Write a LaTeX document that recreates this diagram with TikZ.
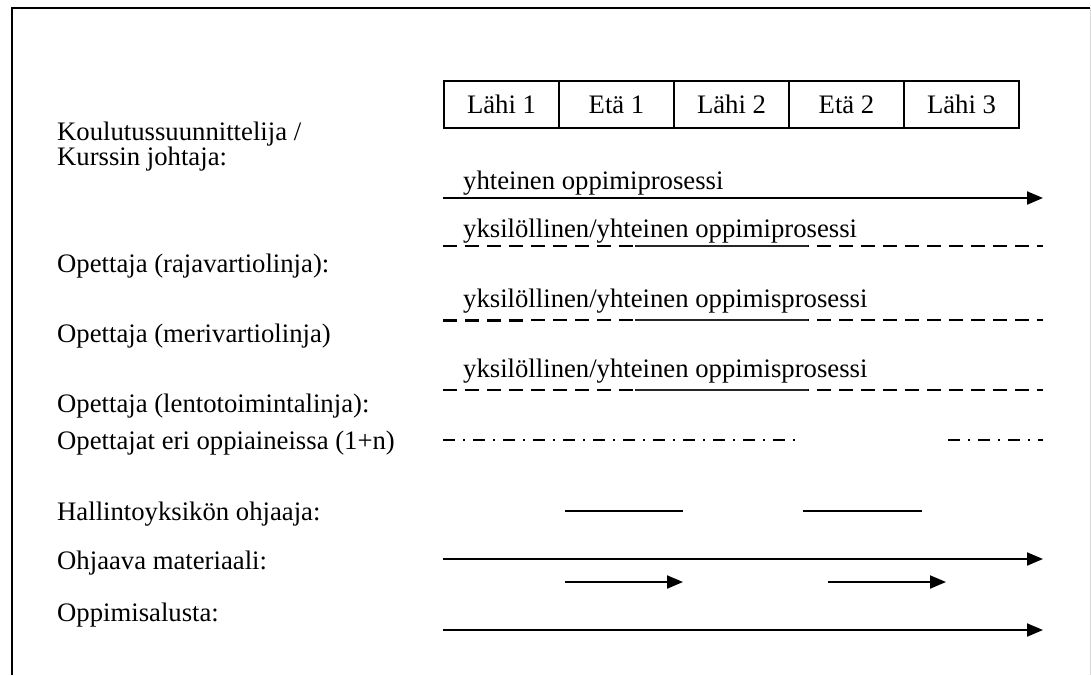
\documentclass[tikz,border=0pt]{standalone}
\usepackage{fontspec}
\setmainfont{Liberation Serif}
\usetikzlibrary{arrows.meta}
\begin{document}
\begin{tikzpicture}[x=1pt,y=-1pt,
  txt/.style={inner sep=0pt,font=\fontsize{26.7}{31}\selectfont},
  lbl/.style={txt,anchor=base west},
  cell/.style={txt,draw,line width=2pt,minimum width=115pt,minimum height=47pt,anchor=north west},
  solidline/.style={line width=2pt},
  arr/.style={line width=2pt,-{Triangle[length=16pt,width=13pt]}},
  dsh/.style={line width=2pt,dash pattern=on 14pt off 8pt},
  dshdot/.style={line width=2pt,dash pattern=on 12pt off 8pt on 2pt off 8pt},
  overlay/.style={line width=2.2pt,black!85},
]
\useasboundingbox (0,0) rectangle (1091,675);
% outer frame (open at the bottom)
\draw[line width=2pt] (12,675) -- (12,8) -- (1090,8);
\draw[black!15,line width=1pt] (1090,8) -- (1090,675);

% phase table
\node[cell] (c1) at (443,80) {Lähi 1};
\node[cell] (c2) at (558,80) {Etä 1};
\node[cell] (c3) at (673,80) {Lähi 2};
\node[cell] (c4) at (788,80) {Etä 2};
\node[cell] (c5) at (903,80) {Lähi 3};

% row labels
\node[lbl] (l1a) at (57,140) {Koulutussuunnittelija /};
\node[lbl] (l1b) at (57,165) {Kurssin johtaja:};
\node[lbl] (l2) at (57,272) {Opettaja (rajavartiolinja):};
\node[lbl] (l3) at (57,342) {Opettaja (merivartiolinja)};
\node[lbl] (l4) at (57,412) {Opettaja (lentotoimintalinja):};
\node[lbl] (l5) at (57,449) {Opettajat eri oppiaineissa (1+n)};
\node[lbl] (l6) at (57,520) {Hallintoyksikön ohjaaja:};
\node[lbl] (l7) at (57,569) {Ohjaava materiaali:};
\node[lbl] (l8) at (57,621) {Oppimisalusta:};

% process captions
\node[lbl] (t1) at (463,189) {yhteinen oppimiprosessi};
\node[lbl] (t2) at (463,237) {yksilöllinen/yhteinen oppimiprosessi};
\node[lbl] (t3) at (463,307) {yksilöllinen/yhteinen oppimisprosessi};
\node[lbl] (t4) at (463,377) {yksilöllinen/yhteinen oppimisprosessi};

% line end points
\coordinate (r1s) at (443,198);  \coordinate (r1e) at (1043,198);
\coordinate (r2s) at (443,246);  \coordinate (r2e) at (1043,246);
\coordinate (r3s) at (443,320);  \coordinate (r3e) at (1043,320);
\coordinate (r4s) at (443,390);  \coordinate (r4e) at (1043,390);
\coordinate (r5s) at (443,440);  \coordinate (r5m) at (797,440);
\coordinate (r5n) at (948,440);  \coordinate (r5e) at (1043,440);
\coordinate (r6a) at (565,511);  \coordinate (r6b) at (683,511);
\coordinate (r6c) at (803,511);  \coordinate (r6d) at (922,511);
\coordinate (r7s) at (443,559);  \coordinate (r7e) at (1043,559);
\coordinate (r7a) at (565,582);  \coordinate (r7b) at (683,582);
\coordinate (r7c) at (828,582);  \coordinate (r7d) at (946,582);
\coordinate (r8s) at (443,630);  \coordinate (r8e) at (1043,630);

% joint process
\draw[arr] (r1s) -- (r1e);
% individual / joint processes
\draw[dsh] (r2s) -- (r2e);
\draw[overlay] (635,246) -- (808,246);
\draw[dsh] (r3s) -- (r3e);
\draw[line width=3pt,dash pattern=on 14pt off 8pt] (r3s) -- (530,320);
\draw[overlay] (635,320) -- (808,320);
\draw[dsh] (r4s) -- (r4e);
\draw[overlay] (635,390) -- (808,390);
% subject teachers
\draw[dshdot] (r5s) -- (r5m);
\draw[dshdot] (r5n) -- (r5e);
% administrative supervisor
\draw[solidline] (r6a) -- (r6b);
\draw[solidline] (r6c) -- (r6d);
% guiding material
\draw[arr] (r7s) -- (r7e);
\draw[arr] (r7a) -- (r7b);
\draw[arr] (r7c) -- (r7d);
% learning platform
\draw[arr] (r8s) -- (r8e);
\end{tikzpicture}
\end{document}
